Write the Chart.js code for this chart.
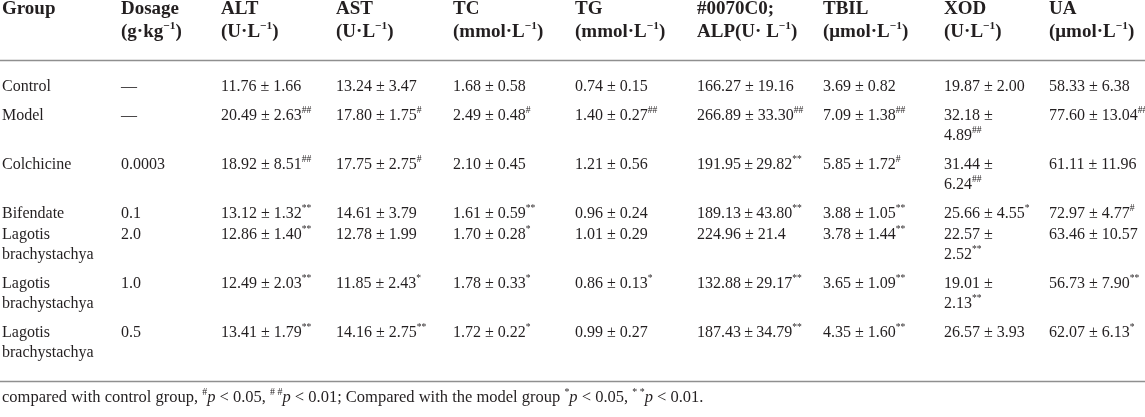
<!DOCTYPE html>
<html>
<head>
<meta charset="utf-8">
<script src="https://cdn.jsdelivr.net/npm/chart.js@4.4.0/dist/chart.umd.min.js"></script>
<style>
  html, body { margin: 0; padding: 0; background: #fff; }
  #tbl { display: block; }
</style>
</head>
<body>
<canvas id="tbl" width="1145" height="417"></canvas>
<script>
"use strict"

// ^..^ = superscript, _.._ = italic
const headers = ['Group', 'Dosage', 'ALT', 'AST', 'TC', 'TG', '#0070C0;', 'TBIL', 'XOD', 'UA'];
const units = ['', '(g·kg^−1^)', '(U·L^−1^)', '(U·L^−1^)', '(mmol·L^−1^)', '(mmol·L^−1^)',
    'ALP(U· L^−1^)', '(μmol·L^−1^)', '(U·L^−1^)', '(μmol·L^−1^)'];

const groups = ['Control', 'Model', 'Colchicine', 'Bifendate',
    'Lagotis brachystachya', 'Lagotis brachystachya', 'Lagotis brachystachya'];
const dosage = ['—', '—', '0.0003', '0.1', '2.0', '1.0', '0.5'];
const alt = ['11.76 ± 1.66', '20.49 ± 2.63^##^', '18.92 ± 8.51^##^', '13.12 ± 1.32^**^',
    '12.86 ± 1.40^**^', '12.49 ± 2.03^**^', '13.41 ± 1.79^**^'];
const ast = ['13.24 ± 3.47', '17.80 ± 1.75^#^', '17.75 ± 2.75^#^', '14.61 ± 3.79',
    '12.78 ± 1.99', '11.85 ± 2.43^*^', '14.16 ± 2.75^**^'];
const tc = ['1.68 ± 0.58', '2.49 ± 0.48^#^', '2.10 ± 0.45', '1.61 ± 0.59^**^',
    '1.70 ± 0.28^*^', '1.78 ± 0.33^*^', '1.72 ± 0.22^*^'];
const tg = ['0.74 ± 0.15', '1.40 ± 0.27^##^', '1.21 ± 0.56', '0.96 ± 0.24',
    '1.01 ± 0.29', '0.86 ± 0.13^*^', '0.99 ± 0.27'];
const alp = ['166.27 ± 19.16', '266.89 ± 33.30^##^', '191.95\u2009±\u200929.82^**^', '189.13\u2009±\u200943.80^**^',
    '224.96 ± 21.4', '132.88\u2009±\u200929.17^**^', '187.43\u2009±\u200934.79^**^'];
const tbil = ['3.69 ± 0.82', '7.09 ± 1.38^##^', '5.85 ± 1.72^#^', '3.88 ± 1.05^**^',
    '3.78 ± 1.44^**^', '3.65 ± 1.09^**^', '4.35 ± 1.60^**^'];
const xod = ['19.87 ± 2.00', '32.18 ± 4.89^##^', '31.44 ± 6.24^##^', '25.66 ± 4.55^*^',
    '22.57 ± 2.52^**^', '19.01 ± 2.13^**^', '26.57 ± 3.93'];
const ua = ['58.33 ± 6.38', '77.60 ± 13.04^##^', '61.11 ± 11.96', '72.97 ± 4.77^#^',
    '63.46 ± 10.57', '56.73 ± 7.90^**^', '62.07 ± 6.13^*^'];
const footnote = 'compared with control group, ^#^_p_ < 0.05, ^# #^_p_ < 0.01; ' +
    'Compared with the model group ^*^_p_ < 0.05, ^* *^_p_ < 0.01.';

const columns = [groups, dosage, alt, ast, tc, tg, alp, tbil, xod, ua];

// layout (table units = px)
const colX = [2, 121, 221, 336, 453, 575, 697, 823, 944, 1049];
const wrapW = [110, 999, 999, 999, 999, 999, 999, 999, 88, 999];
const rowStep = [29, 29, 29, 21, 29, 29, 29]; // first line -> next row's first line, plus extra lines
const lineH = 20;
const headY = [9, 32];
const bodyTop = 87;
const ruleY = [60, 381];
const noteY = 398;

const FACE = '"Liberation Serif", "Times New Roman", serif';
const INK = '#231f20';
const bodySize = 16, headSize = 19, noteSize = 16.5;

function parseRuns(str) {
    let runs = [];
    str.split(/(\^[^^]*\^|_[^_]*_)/).forEach(function (s) {
        if (!s) return;
        if (s[0] === '^') runs.push({ t: s.slice(1, -1), sup: true });
        else if (s[0] === '_') runs.push({ t: s.slice(1, -1), it: true });
        else runs.push({ t: s });
    });
    return runs;
}

function runFont(r, size, bold) {
    let sz = r.sup ? size * 0.6 : size;
    return (r.it ? 'italic ' : '') + (bold ? 'bold ' : '') + sz + 'px ' + FACE;
}

let measureCtx = document.createElement('canvas').getContext('2d');

function runsWidth(runs, size, bold) {
    let w = 0;
    runs.forEach(function (r) {
        measureCtx.font = runFont(r, size, bold);
        w += measureCtx.measureText(r.t).width;
    });
    return w;
}

// greedy wrap on normal spaces
function wrapCell(str, maxW, size, bold) {
    let words = str.split(' ');
    let lines = [];
    let cur = '';
    words.forEach(function (w) {
        let test = cur ? cur + ' ' + w : w;
        if (cur && runsWidth(parseRuns(test), size, bold) > maxW) {
            lines.push(cur);
            cur = w;
        } else {
            cur = test;
        }
    });
    if (cur) lines.push(cur);
    return lines;
}

// build the text anchors
let headPoints = [];
headers.forEach(function (h, c) {
    headPoints.push({ x: colX[c], y: headY[0], runs: parseRuns(h) });
    if (units[c]) headPoints.push({ x: colX[c], y: headY[1], runs: parseRuns(units[c]) });
});

let cellPoints = [];
let rowY = bodyTop;
for (let r = 0; r < groups.length; r++) {
    let maxLines = 1;
    for (let c = 0; c < columns.length; c++) {
        let lines = wrapCell(columns[c][r], wrapW[c], bodySize, false);
        maxLines = Math.max(maxLines, lines.length);
        lines.forEach(function (ln, k) {
            cellPoints.push({ x: colX[c], y: rowY + k * lineH, runs: parseRuns(ln) });
        });
    }
    rowY += (maxLines - 1) * lineH + rowStep[r];
}

let notePoints = [{ x: colX[0], y: noteY, runs: parseRuns(footnote) }];

const tableText = {
    id: 'tableText',
    beforeDatasetsDraw(chart) {
        const ctx = chart.ctx;
        const ys = chart.scales.y;
        ctx.save();
        ctx.strokeStyle = '#8f8f8f';
        ctx.lineWidth = 1.4;
        ruleY.forEach(function (v) {
            let py = Math.round(ys.getPixelForValue(v)) + 0.5;
            ctx.beginPath();
            ctx.moveTo(chart.chartArea.left, py);
            ctx.lineTo(chart.chartArea.right, py);
            ctx.stroke();
        });
        ctx.restore();
    },
    afterDatasetsDraw(chart) {
        const ctx = chart.ctx;
        ctx.save();
        ctx.fillStyle = INK;
        ctx.textBaseline = 'middle';
        ctx.textAlign = 'left';
        chart.data.datasets.forEach(function (ds, di) {
            let meta = chart.getDatasetMeta(di);
            meta.data.forEach(function (el, i) {
                let px = el.x;
                ds.data[i].runs.forEach(function (r) {
                    ctx.font = runFont(r, ds.textSize, ds.bold);
                    let dy = r.sup ? -ds.textSize * 0.33 : 0;
                    ctx.fillText(r.t, px, el.y + dy);
                    px += ctx.measureText(r.t).width;
                });
            });
        });
        ctx.restore();
    }
};

const config = {
    type: 'scatter',
    data: {
        datasets: [
            { label: 'header', data: headPoints, pointRadius: 0, textSize: headSize, bold: true },
            { label: 'cells', data: cellPoints, pointRadius: 0, textSize: bodySize, bold: false },
            { label: 'note', data: notePoints, pointRadius: 0, textSize: noteSize, bold: false }
        ]
    },
    options: {
        responsive: false,
        animation: false,
        events: [],
        layout: { padding: 0 },
        scales: {
            x: { type: 'linear', min: 0, max: 1145, display: false },
            y: { type: 'linear', min: 0, max: 417, reverse: true, display: false }
        },
        plugins: {
            legend: { display: false },
            tooltip: { enabled: false }
        }
    },
    plugins: [tableText]
};

const myChart = new Chart(document.getElementById('tbl'), config);
</script>
</body>
</html>
